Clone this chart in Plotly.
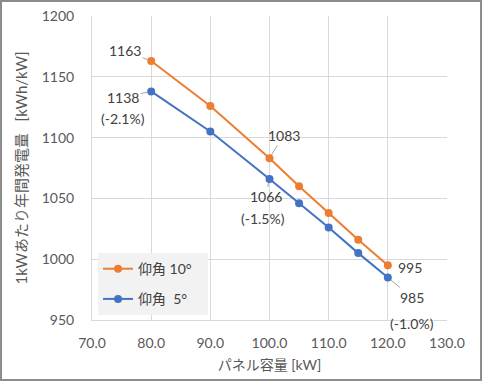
import plotly.graph_objects as go

panel_kw = [80, 90, 100, 105, 110, 115, 120]
elev10 = [1163, 1126, 1083, 1060, 1038, 1016, 995]
elev5 = [1138, 1105, 1066, 1046, 1026, 1005, 985]
pct_labels = ["(-2.1%)", "(-1.5%)", "(-1.0%)"]
x_ticks = [70, 80, 90, 100, 110, 120, 130]
y_ticks = [950, 1000, 1050, 1100, 1150, 1200]

ORANGE = "#ED7D31"
BLUE = "#4472C4"
FONT = "Lato, 'Noto Sans CJK JP', sans-serif"
TXT = "#404040"
LEAD = "#a6a6a6"

fig = go.Figure()
fig.add_trace(go.Scatter(x=panel_kw, y=elev10, mode="lines+markers", name="仰角 10°\u00a0\u00a0\u00a0",
                         legendgroup="a",
                         line=dict(color=ORANGE, width=2), marker=dict(size=8, color=ORANGE)))
fig.add_trace(go.Scatter(x=panel_kw, y=elev5, mode="lines+markers", name="仰角 \u00a05°",
                         legendgroup="b",
                         line=dict(color=BLUE, width=2), marker=dict(size=8, color=BLUE)))

def ann(x, y, text, ax=0, ay=0, arrow=True, xshift=0, yshift=0):
    d = dict(x=x, y=y, xref="x", yref="y", text=text, font=dict(size=14, color=TXT, family=FONT))
    if arrow:
        d.update(showarrow=True, ax=ax, ay=ay, arrowhead=0, arrowwidth=1, arrowcolor=LEAD, standoff=4)
    else:
        d.update(showarrow=False, xshift=xshift, yshift=yshift)
    fig.add_annotation(**d)

ann(panel_kw[0], elev10[0], str(elev10[0]), ax=-26, ay=-10)
ann(panel_kw[0], elev5[0], str(elev5[0]), ax=-28, ay=6)
ann(panel_kw[0], elev5[0], pct_labels[0], arrow=False, xshift=-28, yshift=-27)
ann(panel_kw[2], elev10[2], str(elev10[2]), ax=14, ay=-23)
ann(panel_kw[2], elev5[2], str(elev5[2]), ax=-4, ay=18)
ann(panel_kw[2], elev5[2], pct_labels[1], arrow=False, xshift=-7, yshift=-40)
ann(panel_kw[6], elev10[6], str(elev10[6]), arrow=False, xshift=22, yshift=-2)
ann(panel_kw[6], elev5[6], str(elev5[6]), ax=24, ay=20)
ann(panel_kw[6], elev5[6], pct_labels[2], arrow=False, xshift=24, yshift=-46)

W, H = 482, 381
ml, mr, mt, mb = 92, 35, 16, 61
pw, ph = W - ml - mr, H - mt - mb
fig.add_shape(type="rect", xref="paper", yref="paper",
              x0=(1 - ml) / pw, x1=1 + (mr - 1) / pw,
              y0=-(mb - 1) / ph, y1=1 + (mt - 1) / ph,
              line=dict(color="#8c8c8c", width=2), layer="above")

fig.update_layout(
    width=W, height=H,
    margin=dict(l=ml, r=mr, t=mt, b=mb, autoexpand=False),
    paper_bgcolor="white", plot_bgcolor="white",
    font=dict(family=FONT, color="#595959", size=14),
    showlegend=True,
    legend=dict(x=0.017, y=0.22, xanchor="left", yanchor="top",
                bgcolor="#f2f2f2", font=dict(size=14, color=TXT),
                itemwidth=30, tracegroupgap=9),
    xaxis=dict(range=[70, 130], tickvals=x_ticks, ticktext=[f"{v:.1f}" for v in x_ticks],
               showgrid=True, gridcolor="#d9d9d9", gridwidth=1, zeroline=False,
               showline=True, linecolor="#d9d9d9", linewidth=1, mirror=False,
               ticklabelstandoff=10, automargin=False,
               title=dict(text="パネル容量 [kW]", font=dict(size=14, color="#595959"), standoff=10)),
    yaxis=dict(range=[950, 1200], tickvals=y_ticks,
               showgrid=True, gridcolor="#d9d9d9", gridwidth=1, zeroline=False,
               showline=True, linecolor="#d9d9d9", linewidth=1,
               ticklabelstandoff=14, automargin=False,
               title=dict(text="1kWあたり年間発電量\u00a0\u00a0\u00a0[kWh/kW]", font=dict(size=15, color="#595959"), standoff=10)),
)

fig.write_html("out.html", config={"displayModeBar": False},
               post_script="document.body.style.margin='0';")
